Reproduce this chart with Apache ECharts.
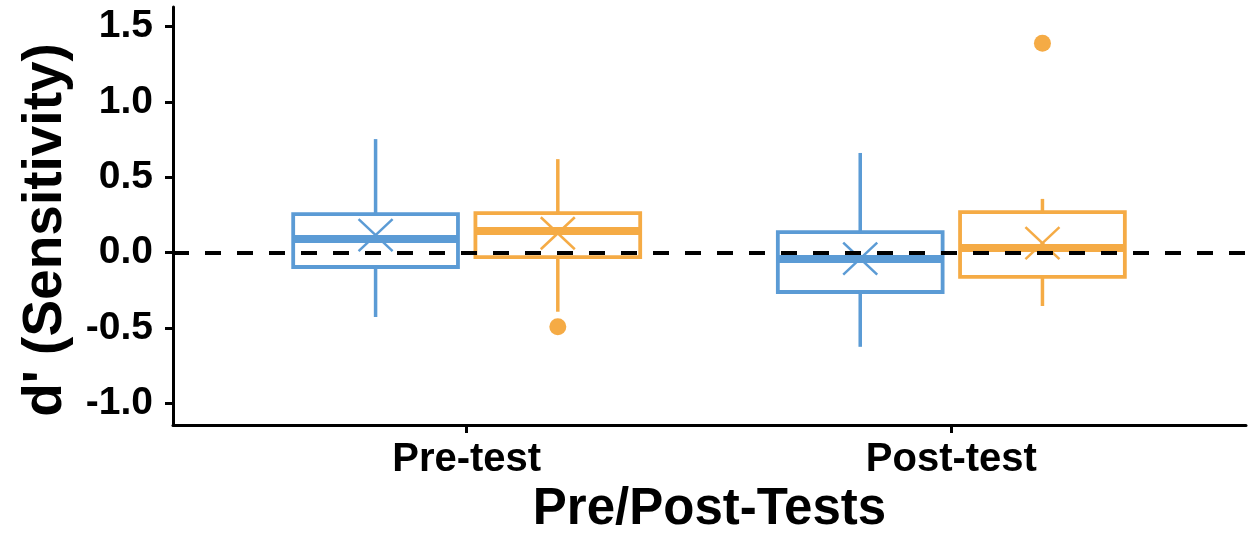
<!DOCTYPE html>
<html><head><meta charset="utf-8">
<script src="https://cdn.jsdelivr.net/npm/echarts@6/dist/echarts.min.js"></script>
<style>html,body{margin:0;padding:0;background:#fff}#c{width:1258px;height:534px}</style>
</head><body><div id="c"></div>
<script>
// ---- data ----
const categories = ['Pre-test', 'Post-test'];
const yTicks = [-1.0, -0.5, 0.0, 0.5, 1.0, 1.5];
// [lower whisker, Q1, median, Q3, upper whisker]
const blueBox = [[-0.428, -0.096, 0.090, 0.255, 0.753], [-0.626, -0.262, -0.043, 0.136, 0.661]];
const blueMean = [0.116, -0.040];
const blueOutliers = [[], []];
const orangeBox = [[-0.393, -0.030, 0.143, 0.262, 0.620], [-0.355, -0.162, 0.030, 0.268, 0.356]];
const orangeMean = [0.128, 0.063];
const orangeOutliers = [[-0.493], [1.390]];
const refLine = [0];

// ---- layout / style ----
const BLUE = '#5b9bd5', ORANGE = '#f5ab45';
const DODGE = 0.188, BOX_W = 0.34;
const FONT = '"Liberation Sans", Arial, Helvetica, sans-serif';

function boxData(box, mean, off) {
  return categories.map((c, i) => [i + 1 + off].concat(box[i], [mean[i]]));
}
function outlierData(out, off) {
  const r = [];
  categories.forEach((c, i) => out[i].forEach(v => r.push([i + 1 + off, v])));
  return r;
}
function makeRender(color) {
  return function (params, api) {
    const x = api.value(0);
    const pLo = api.coord([x, api.value(1)]);
    const pQ1 = api.coord([x, api.value(2)]);
    const pMed = api.coord([x, api.value(3)]);
    const pQ3 = api.coord([x, api.value(4)]);
    const pHi = api.coord([x, api.value(5)]);
    const pMean = api.coord([x, api.value(6)]);
    const w = api.size([BOX_W, 0])[0];
    const cx = pQ1[0], h = w / 2;
    const s = { stroke: color, fill: null, lineWidth: 3.5 };
    return {
      type: 'group', children: [
        { type: 'rect', shape: { x: cx - h, y: pQ3[1], width: w, height: pQ1[1] - pQ3[1] }, style: { stroke: color, fill: 'transparent', lineWidth: 3.8 } },
        { type: 'line', shape: { x1: cx, y1: pQ3[1], x2: cx, y2: pHi[1] }, style: s },
        { type: 'line', shape: { x1: cx, y1: pQ1[1], x2: cx, y2: pLo[1] }, style: s },
        { type: 'line', shape: { x1: cx - h, y1: pMed[1], x2: cx + h, y2: pMed[1] }, style: { stroke: color, lineWidth: 8 } },
        { type: 'line', shape: { x1: cx - 17, y1: pMean[1] - 16, x2: cx + 17, y2: pMean[1] + 16 }, style: { stroke: color, lineWidth: 2.5 } },
        { type: 'line', shape: { x1: cx - 17, y1: pMean[1] + 16, x2: cx + 17, y2: pMean[1] - 16 }, style: { stroke: color, lineWidth: 2.5 } }
      ]
    };
  };
}

const chart = echarts.init(document.getElementById('c'), null, { renderer: 'canvas' });
chart.setOption({
  backgroundColor: '#ffffff',
  animation: false,
  grid: { left: 173, right: 12, top: 7, bottom: 109, containLabel: false, outerBoundsMode: 'none' },
  xAxis: {
    type: 'value', min: 0.394, max: 2.608,
    splitLine: { show: false },
    axisLine: { show: true, onZero: false, lineStyle: { color: '#000', width: 3 } },
    axisTick: { show: true, length: 8, lineStyle: { color: '#000', width: 3 }, customValues: [1, 2] },
    axisLabel: {
      customValues: [1, 2], margin: 15,
      formatter: v => categories[Math.round(v) - 1] || '',
      color: '#000', fontFamily: FONT, fontWeight: 'bold', fontSize: 40
    },
    name: 'Pre/Post-Tests', nameLocation: 'middle', nameGap: 59,
    nameTextStyle: { color: '#000', fontFamily: FONT, fontWeight: 'bold', fontSize: 51 }
  },
  yAxis: {
    type: 'value', min: -1.145, max: 1.63,
    splitLine: { show: false },
    axisLine: { show: true, lineStyle: { color: '#000', width: 3 } },
    axisTick: { show: true, length: 8, lineStyle: { color: '#000', width: 3 }, customValues: yTicks },
    axisLabel: {
      customValues: yTicks, margin: 20,
      formatter: v => v.toFixed(1),
      color: '#000', fontFamily: FONT, fontWeight: 'bold', fontSize: 39
    },
    name: "d' (Sensitivity)", nameLocation: 'middle', nameGap: 100, nameRotate: 90,
    nameTextStyle: { color: '#000', fontFamily: FONT, fontWeight: 'bold', fontSize: 55, padding: [0, 28, 0, 0] }
  },
  series: [
    { name: 'Group 1', type: 'custom', renderItem: makeRender(BLUE), data: boxData(blueBox, blueMean, -DODGE), z: 2 },
    { name: 'Group 2', type: 'custom', renderItem: makeRender(ORANGE), data: boxData(orangeBox, orangeMean, DODGE), z: 2 },
    { name: 'Group 1 outliers', type: 'scatter', symbol: 'circle', symbolSize: 17, itemStyle: { color: BLUE, opacity: 1 }, data: outlierData(blueOutliers, -DODGE), z: 3 },
    { name: 'Group 2 outliers', type: 'scatter', symbol: 'circle', symbolSize: 17, itemStyle: { color: ORANGE, opacity: 1 }, data: outlierData(orangeOutliers, DODGE), z: 3 },
    {
      name: 'ref', type: 'line', data: [], z: 10,
      markLine: {
        silent: true, symbol: ['none', 'none'], label: { show: false },
        lineStyle: { color: '#000', width: 4, type: [16, 16] },
        data: refLine.map(v => ({ yAxis: v }))
      }
    }
  ]
});
</script></body></html>
